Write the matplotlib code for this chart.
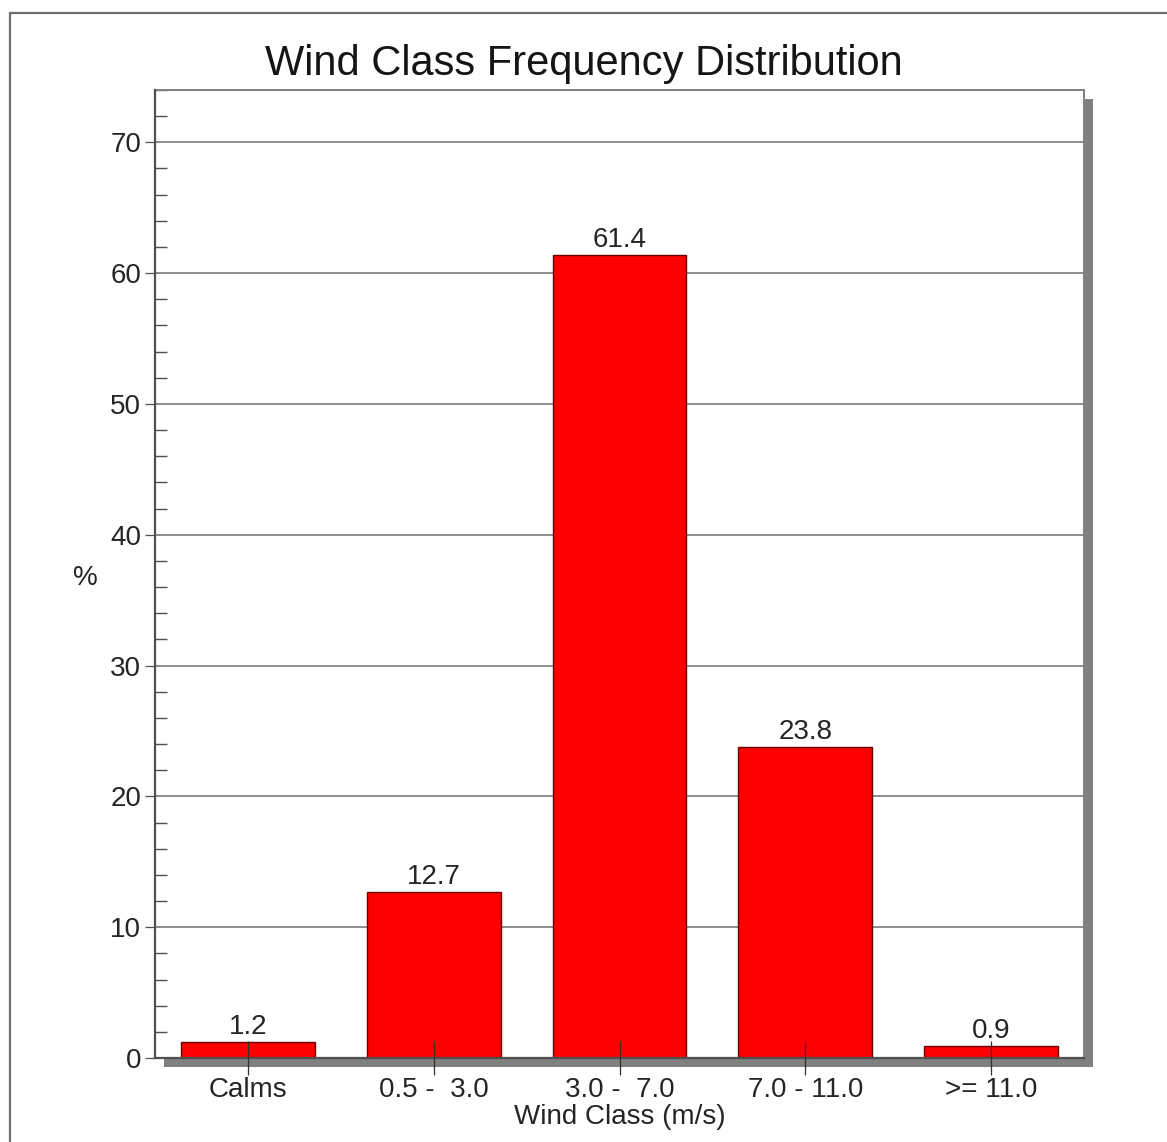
import matplotlib
matplotlib.use("Agg")
import matplotlib.pyplot as plt
from matplotlib.patches import Rectangle
from matplotlib.ticker import MultipleLocator

categories = ["Calms", "0.5 -  3.0", "3.0 -  7.0", "7.0 - 11.0", ">= 11.0"]
values = [1.2, 12.7, 61.4, 23.8, 0.9]
value_labels = ["1.2", "12.7", "61.4", "23.8", "0.9"]
yticks = [0, 10, 20, 30, 40, 50, 60, 70]
title = "Wind Class Frequency Distribution"
xlabel = "Wind Class (m/s)"
ylabel = "%"

plt.rcParams['font.family'] = ['Liberation Sans', 'DejaVu Sans']

W, H = 1167, 1142
fig = plt.figure(figsize=(W / 100, H / 100), dpi=100)
fig.patch.set_facecolor('white')

# outer border
fig.add_artist(Rectangle((10 / W, -0.05), 1.2, 1 - 13 / H + 0.05, transform=fig.transFigure,
                         fill=False, edgecolor='#707070', linewidth=1.6, zorder=0))

l, r, t, b = 155 / W, 1084 / W, 1 - 90 / H, 1 - 1058 / H
# shadow
off_x, off_y = 9 / W, 9 / H
fig.add_artist(Rectangle((l + off_x, b - off_y), r - l, t - b, transform=fig.transFigure,
                         facecolor='#808080', edgecolor='none', zorder=0.5))

ax = fig.add_axes([l, b, r - l, t - b])
ax.set_facecolor('white')
ax.set_zorder(1)

FS = 20
x = list(range(len(categories)))
bars = ax.bar(x, values, width=0.72, color='#ff0000', edgecolor='#6a0000', linewidth=1.0, zorder=3)
for xi, v, lab in zip(x, values, value_labels):
    ax.annotate(lab, (xi, v), xytext=(0, 1.5), textcoords='offset points',
                ha='center', va='bottom', fontsize=FS, color='#252525', zorder=5)

ax.set_xlim(-0.5, len(categories) - 0.5)
ax.set_ylim(0, 74)
ax.set_yticks(yticks)
ax.yaxis.set_minor_locator(MultipleLocator(2))
ax.set_xticks(x)
ax.set_xticklabels(categories)

ax.grid(axis='y', which='major', color='#8c8c8c', linewidth=1.4)
ax.yaxis.set_zorder(1)
ax.xaxis.set_zorder(4)

ax.tick_params(axis='x', which='major', direction='inout', length=24, width=0.9,
               color='#303030', labelsize=FS, labelcolor='#252525', pad=2)
ax.tick_params(axis='y', which='major', direction='out', length=7, width=0.9,
               color='#505050', labelsize=FS, labelcolor='#252525', pad=3)
ax.tick_params(axis='y', which='minor', direction='in', length=8.5, width=1.0, color='#505050')
ax.tick_params(axis='x', which='minor', length=0)

for s in ['left', 'bottom']:
    ax.spines[s].set_color('#505050')
    ax.spines[s].set_linewidth(1.6)
    ax.spines[s].set_zorder(4)
for s in ['top', 'right']:
    ax.spines[s].set_color('#808080')
    ax.spines[s].set_linewidth(1.4)

ax.set_xlabel(xlabel, fontsize=FS, color='#252525', labelpad=0.5)
ax.set_ylabel(ylabel, fontsize=FS, color='#252525', rotation=0, ha='center', va='center')
ax.yaxis.set_label_coords((85 - 155) / (1084 - 155), (1058 - 578) / (1058 - 90))

fig.text(583.5 / W, 1 - 75 / H, title, ha='center', va='baseline', fontsize=30, color='#151515')

fig.savefig('out.png', dpi=100, facecolor='white')
